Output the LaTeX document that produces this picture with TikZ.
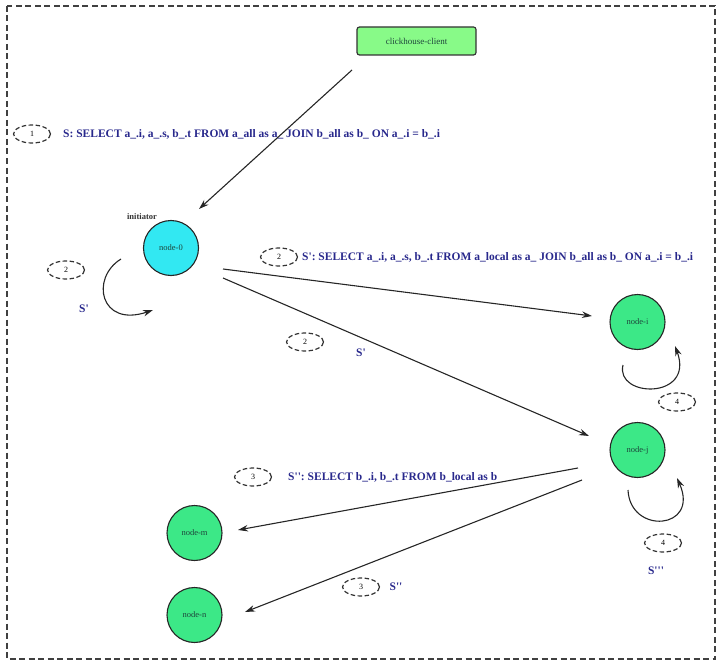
\documentclass[tikz,border=0pt]{standalone}
\usepackage{fontspec}
\setmainfont{Liberation Serif}[Ligatures=TeXOff]
\usetikzlibrary{arrows.meta,shapes.geometric}
\definecolor{qblue}{RGB}{40,40,140}
\definecolor{cyanfill}{RGB}{50,232,242}
\definecolor{greenfill}{RGB}{60,232,135}
\definecolor{clientfill}{RGB}{136,250,136}
\definecolor{nodetext}{RGB}{30,70,60}
\newcommand{\q}{'}
\tikzset{
  conn/.style={draw=black!85, line width=1.1pt, -{Stealth[length=10pt,width=6.5pt]}},
  srv/.style={circle, draw=black!85, line width=1.1pt, minimum size=55pt, inner sep=0pt, font=\fontsize{8.5}{10}\selectfont, text=nodetext},
  stepmark/.style={ellipse, draw=black!80, dash pattern=on 4.5pt off 2.5pt, line width=1.2pt, minimum width=37pt, minimum height=18pt, inner sep=0pt, font=\fontsize{8}{9}\selectfont},
  qtext/.style={anchor=west, text=qblue, font=\fontsize{11.5}{13}\selectfont\bfseries, inner sep=0pt},
  qlabel/.style={text=qblue, font=\fontsize{11.5}{13}\selectfont\bfseries, inner sep=0pt},
}
\begin{document}
\begin{tikzpicture}[x=1pt,y=-1pt]
\useasboundingbox (0,0) rectangle (720,666);
\draw[black!75, line width=1.3pt, dash pattern=on 6pt off 3.5pt] (7,6) rectangle (715,659);

\node[draw=black!80, line width=1.2pt, rounded corners=2.5pt, fill=clientfill, minimum width=119pt, minimum height=28pt, inner sep=0pt, font=\fontsize{9}{11}\selectfont, text=nodetext] (client) at (416.5,41) {clickhouse-client};
\coordinate (cstart) at (352,70);

\node[srv, fill=cyanfill] (n0) at (171,248) {node-0};
\node[font=\fontsize{8.5}{10}\selectfont\bfseries, text=black!80, inner sep=0pt] (init) at (142,217) {initiator};
\node[srv, fill=greenfill] (ni) at (637.5,322) {node-i};
\node[srv, fill=greenfill] (nj) at (637.5,450) {node-j};
\node[srv, fill=greenfill] (nm) at (194.5,533) {node-m};
\node[srv, fill=greenfill] (nn) at (194.5,615) {node-n};

% step 1
\node[stepmark] (e1) at (32,134) {1};
\node[qtext] (t1) at (63,134) {S: SELECT a\_.i, a\_.s, b\_.t FROM a\_all as a\_ JOIN b\_all as b\_ ON a\_.i = b\_.i};
\coordinate (ctip) at (199,209);
\draw[conn] (cstart) -- (ctip);

% step 2
\node[stepmark] (e2a) at (66,270) {2};
\node[qlabel] (s2a) at (84,309) {S\q};
\coordinate (l0s) at (121,259);
\coordinate (l0e) at (153,310);
\draw[conn] (l0s) .. controls (90,278) and (100,328) .. (l0e);

\node[stepmark] (e2b) at (279,257) {2};
\node[qtext] (t2) at (302,257) {S\q: SELECT a\_.i, a\_.s, b\_.t FROM a\_local as a\_ JOIN b\_all as b\_ ON a\_.i = b\_.i};
\coordinate (o1) at (223,269);
\coordinate (o2) at (223,278);
\coordinate (iin) at (592,316);
\coordinate (jin) at (589,436);
\draw[conn] (o1) -- (iin);
\draw[conn] (o2) -- (jin);
\node[stepmark] (e2c) at (305,342) {2};
\node[qlabel] (s2c) at (361,353) {S\q};

% step 4 loops
\coordinate (lis) at (623,365);
\coordinate (lie) at (675,346);
\draw[conn] (lis) .. controls (615,398) and (695,400) .. (lie);
\node[stepmark] (e4a) at (677,402) {4};

\coordinate (ljs) at (628,490);
\coordinate (lje) at (677,478);
\draw[conn] (ljs) .. controls (630,535) and (700,530) .. (lje);
\node[stepmark] (e4b) at (663,543) {4};
\node[qlabel] (s4) at (656,571) {S\q\q\q};

% step 3
\node[stepmark] (e3a) at (253,477) {3};
\node[qtext] (t3) at (288,477) {S\q\q: SELECT b\_.i, b\_.t FROM b\_local as b};
\coordinate (jo1) at (578,468);
\coordinate (jo2) at (582,480);
\coordinate (min) at (238,530);
\coordinate (nin) at (245,612);
\draw[conn] (jo1) -- (min);
\draw[conn] (jo2) -- (nin);
\node[stepmark] (e3b) at (361,587) {3};
\node[qlabel] (s3) at (396,587) {S\q\q};
\end{tikzpicture}
\end{document}
